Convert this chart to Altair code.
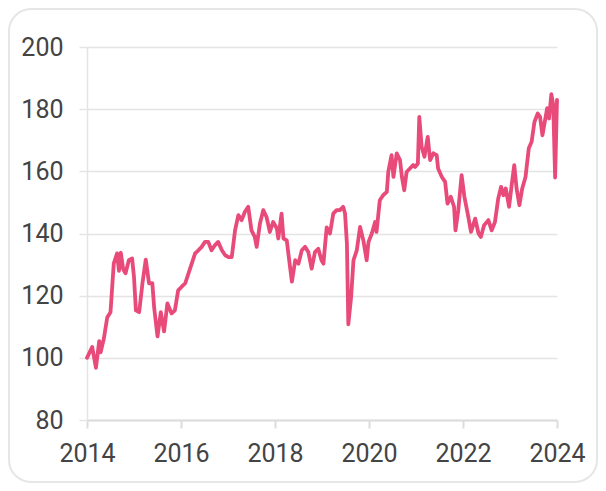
import altair as alt
import pandas as pd

years = [
    2014.00, 2014.11, 2014.19, 2014.26, 2014.29, 2014.36, 2014.43, 2014.50, 2014.57, 2014.64,
    2014.68, 2014.72, 2014.77, 2014.82, 2014.89, 2014.96, 2015.00, 2015.04, 2015.11, 2015.18,
    2015.25, 2015.32, 2015.39, 2015.43, 2015.50, 2015.57, 2015.64, 2015.66, 2015.71, 2015.80,
    2015.87, 2015.94, 2016.01, 2016.09, 2016.16, 2016.23, 2016.30, 2016.37, 2016.44, 2016.51,
    2016.58, 2016.65, 2016.72, 2016.79, 2016.87, 2016.94, 2017.01, 2017.08, 2017.15, 2017.22,
    2017.29, 2017.36, 2017.43, 2017.50, 2017.57, 2017.61, 2017.68, 2017.75, 2017.82, 2017.89,
    2017.96, 2018.04, 2018.07, 2018.14, 2018.18, 2018.25, 2018.32, 2018.36, 2018.43, 2018.50,
    2018.57, 2018.64, 2018.71, 2018.78, 2018.85, 2018.92, 2018.99, 2019.03, 2019.10, 2019.17,
    2019.24, 2019.31, 2019.38, 2019.45, 2019.49, 2019.53, 2019.56, 2019.62, 2019.67, 2019.74,
    2019.81, 2019.88, 2019.95, 2019.99, 2020.06, 2020.13, 2020.16, 2020.23, 2020.30, 2020.38,
    2020.41, 2020.48, 2020.52, 2020.59, 2020.66, 2020.70, 2020.75, 2020.80, 2020.87, 2020.94,
    2020.98, 2021.04, 2021.07, 2021.12, 2021.18, 2021.25, 2021.30, 2021.37, 2021.44, 2021.47,
    2021.55, 2021.62, 2021.67, 2021.74, 2021.81, 2021.84, 2021.90, 2021.97, 2022.03, 2022.10,
    2022.17, 2022.26, 2022.33, 2022.38, 2022.45, 2022.54, 2022.61, 2022.68, 2022.75, 2022.81,
    2022.86, 2022.91, 2022.98, 2023.04, 2023.09, 2023.14, 2023.20, 2023.26, 2023.33, 2023.40,
    2023.46, 2023.52, 2023.59, 2023.64, 2023.69, 2023.74, 2023.79, 2023.83, 2023.88, 2023.92,
    2023.96, 2024.00,
]

values = [
    100.0, 103.5, 96.8, 105.4, 101.8, 106.3, 113.0, 114.7, 130.4, 133.6,
    128.0, 133.8, 128.5, 127.2, 131.4, 132.0, 126.0, 115.3, 114.7, 124.0,
    131.6, 124.0, 124.0, 116.0, 106.9, 114.7, 108.5, 111.0, 117.5, 114.3,
    115.3, 121.7, 122.8, 124.0, 127.2, 130.4, 133.6, 134.6, 135.7, 137.3,
    137.3, 134.6, 136.2, 137.3, 134.6, 133.0, 132.4, 132.4, 141.0, 145.9,
    144.3, 147.0, 148.6, 141.0, 138.9, 135.7, 143.2, 147.5, 145.3, 140.5,
    143.7, 141.6, 138.4, 146.4, 138.4, 137.8, 129.2, 124.5, 131.4, 130.3,
    134.6, 135.7, 134.0, 128.7, 134.0, 135.1, 131.4, 130.3, 142.0, 140.0,
    146.4, 147.5, 147.5, 148.6, 146.4, 136.8, 110.8, 119.6, 131.4, 134.6,
    142.1, 137.8, 131.4, 137.3, 140.0, 143.7, 140.5, 150.7, 152.3, 153.4,
    159.8, 165.2, 158.2, 165.8, 163.6, 158.2, 153.9, 159.8, 160.9, 162.0,
    161.4, 162.5, 177.5, 167.9, 164.7, 171.1, 163.6, 165.8, 165.2, 160.9,
    158.2, 156.6, 149.6, 151.8, 148.6, 141.0, 147.5, 158.8, 151.8, 146.4,
    140.5, 144.8, 140.0, 138.9, 142.7, 144.3, 141.0, 143.7, 151.3, 155.0,
    152.3, 154.5, 148.6, 156.1, 162.0, 154.5, 149.1, 154.5, 158.2, 167.4,
    169.5, 175.9, 178.6, 177.5, 171.6, 175.9, 180.3, 177.0, 184.8, 181.3,
    158.0, 183.0,
]

x_ticks = [2014, 2016, 2018, 2020, 2022, 2024]
y_ticks = [80, 100, 120, 140, 160, 180, 200]

df = pd.DataFrame({"year": years, "value": values})

FONT = "Roboto"
GRID = "#e4e4e4"
LABEL = "#444444"

frame = alt.Chart(pd.DataFrame({"k": [0]})).mark_rect(
    fillOpacity=0, stroke="#e6e6e6", strokeWidth=2, cornerRadius=22
).encode(
    x=alt.value(-78), x2=alt.value(510), y=alt.value(-38), y2=alt.value(435)
)

line = alt.Chart(df).mark_line(
    color="#E84A7A", strokeWidth=3.8, strokeJoin="round", strokeCap="round"
).encode(
    x=alt.X(
        "year:Q",
        scale=alt.Scale(domain=[2014, 2024], nice=False, zero=False),
        axis=alt.Axis(
            values=x_ticks, format="d", title=None, grid=False,
            labelFlush=False, labelOverlap=False,
            domainColor="#dcdcdc", domainWidth=2,
            tickColor="#dcdcdc", tickWidth=2, tickSize=8,
            labelFont=FONT, labelFontSize=25, labelColor=LABEL, labelPadding=13,
        ),
    ),
    y=alt.Y(
        "value:Q",
        scale=alt.Scale(domain=[80, 200], nice=False, zero=False),
        axis=alt.Axis(
            values=y_ticks, title=None, grid=True, gridColor=GRID, gridWidth=1.5,
            labelFlush=False, labelOverlap=False,
            domainColor=GRID, domainWidth=1.5,
            tickColor=GRID, tickWidth=1.5, tickSize=8,
            labelFont=FONT, labelFontSize=25, labelColor=LABEL, labelPadding=16,
        ),
    ),
)

chart = alt.layer(frame, line).properties(
    width=470,
    height=373,
    padding={"left": 79, "top": 39, "right": 41, "bottom": 63},
    autosize="none",
    background="white",
).configure_view(stroke=None)

chart.save("out.html", embed_options={"renderer": "svg", "actions": False})
